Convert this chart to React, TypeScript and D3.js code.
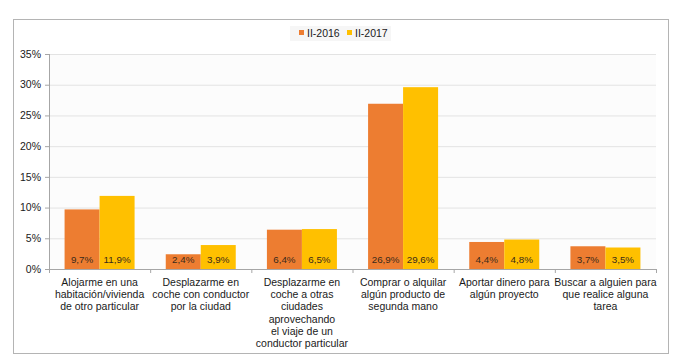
import React from 'react';
import * as d3 from 'd3';

const categories = [
  ['Alojarme en una', 'habitación/vivienda', 'de otro particular'],
  ['Desplazarme en', 'coche con conductor', 'por la ciudad'],
  ['Desplazarme en', 'coche a otras', 'ciudades', 'aprovechando', 'el viaje de un', 'conductor particular'],
  ['Comprar o alquilar', 'algún producto de', 'segunda mano'],
  ['Aportar dinero para', 'algún proyecto'],
  ['Buscar a alguien para', 'que realice alguna', 'tarea'],
];
const seriesNames = ['II-2016', 'II-2017'];
const values2016 = [9.7, 2.4, 6.4, 26.9, 4.4, 3.7];
const values2017 = [11.9, 3.9, 6.5, 29.6, 4.8, 3.5];
const yTicks = [0, 5, 10, 15, 20, 25, 30, 35];
const colors = ['#ED7D31', '#FFC000'];

const W = 676;
const H = 358;
const margin = { left: 49, right: 20, top: 54, bottom: 89 };
const font = 'Liberation Sans, Arial, sans-serif';

const fmt = (v: number) => v.toFixed(1).replace('.', ',') + '%';

const App = () => {
  const x0 = d3
    .scaleBand<number>()
    .domain(d3.range(categories.length))
    .range([margin.left, W - margin.right])
    .paddingInner(0)
    .paddingOuter(0);
  const x1 = d3.scaleBand<number>().domain([0, 1]).range([0, x0.bandwidth()]).paddingInner(0).paddingOuter(0.445);
  const y = d3.scaleLinear().domain([0, 35]).range([H - margin.bottom, margin.top]);
  const series = [values2016, values2017];
  const base = y(0);

  return (
    <svg width={W} height={H} style={{ position: 'absolute', left: 0, top: 0, fontFamily: font }}>
      <rect x={0} y={0} width={W} height={H} fill="#fff" />
      <rect x={13.5} y={19.5} width={655} height={334} fill="#fff" stroke="#b4b4b4" />
      <rect x={margin.left} y={margin.top} width={W - margin.right - margin.left} height={base - margin.top} fill="#fcfcfc" />

      {/* gridlines */}
      {yTicks.map((t) => (
        <g key={t}>
          {t > 0 && (
            <line x1={margin.left} x2={W - margin.right} y1={y(t) + 0.5} y2={y(t) + 0.5} stroke="#e3e3e3" />
          )}
          <line x1={45} x2={margin.left} y1={y(t) + 0.5} y2={y(t) + 0.5} stroke="#a6a6a6" />
          <text x={41} y={y(t)} dy="0.35em" textAnchor="end" fontSize={10.5} fill="#1a1a1a">
            {t}%
          </text>
        </g>
      ))}

      {/* bars */}
      {series.map((vals, si) =>
        vals.map((v, ci) => (
          <rect
            key={`${si}-${ci}`}
            x={(x0(ci) ?? 0) + (x1(si) ?? 0)}
            y={y(v)}
            width={x1.bandwidth()}
            height={base - y(v)}
            fill={colors[si]}
          />
        ))
      )}

      {/* value labels */}
      {series.map((vals, si) =>
        vals.map((v, ci) => (
          <text
            key={`l-${si}-${ci}`}
            x={(x0(ci) ?? 0) + (x1(si) ?? 0) + x1.bandwidth() / 2}
            y={base - 9}
            dy="0.35em"
            textAnchor="middle"
            fontSize={9.8}
            fill="#3a2a1a"
          >
            {fmt(v)}
          </text>
        ))
      )}

      {/* axes */}
      <line x1={margin.left + 0.5} x2={margin.left + 0.5} y1={margin.top} y2={base} stroke="#a6a6a6" />
      <line x1={margin.left} x2={W - margin.right} y1={base + 0.5} y2={base + 0.5} stroke="#a6a6a6" />
      {d3.range(categories.length + 1).map((i) => {
        const xx = i < categories.length ? (x0(i) ?? 0) : W - margin.right;
        return <line key={`t-${i}`} x1={xx + 0.5} x2={xx + 0.5} y1={base} y2={base + 4} stroke="#a6a6a6" />;
      })}

      {/* category labels */}
      {categories.map((lines, ci) => (
        <text
          key={`c-${ci}`}
          x={(x0(ci) ?? 0) + x0.bandwidth() / 2}
          y={282}
          textAnchor="middle"
          fontSize={10.5}
          fill="#1a1a1a"
        >
          {lines.map((ln, li) => (
            <tspan key={li} x={(x0(ci) ?? 0) + x0.bandwidth() / 2} y={282 + li * 12.3} dy="0.35em">
              {ln}
            </tspan>
          ))}
        </text>
      ))}

      {/* legend */}
      <rect x={290} y={26} width={101} height={15} fill="#f6f6f6" />
      {seriesNames.map((name, i) => (
        <g key={name} transform={`translate(${299 + i * 48},33)`}>
          <rect x={0} y={-3} width={5} height={5} fill={colors[i]} />
          <text x={8} y={0} dy="0.35em" fontSize={10.5} fill="#1a1a1a">
            {name}
          </text>
        </g>
      ))}
    </svg>
  );
};

export default App;
